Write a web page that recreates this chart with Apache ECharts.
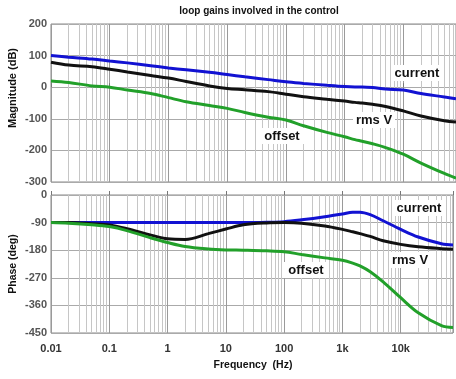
<!DOCTYPE html>
<html>
<head>
<meta charset="utf-8">
<script src="https://cdn.jsdelivr.net/npm/echarts@6/dist/echarts.min.js"></script>
<style>
html,body{margin:0;padding:0;background:#fff;}
#chart{width:456px;height:379px;}
</style>
</head>
<body>
<div id="chart"></div>
<script>
// Frequency points (Hz)
const freqs = [0.01,0.02,0.05,0.1,0.2,0.5,1,2,5,10,20,50,100,200,500,1000,1500,2000,3000,5000,10000,20000,50000,79000];
// Magnitude (dB)
const magCurrent = [100,95,89,83,77,68,61,55,47,40,33,24,17,12,6,2,1,1,-1,-6,-9,-20,-31,-37];
const magRms     = [79,70,65,57,48,37,29,18,4,-4,-8,-14,-22,-30,-38,-44,-48,-50,-54,-61,-75,-91,-106,-110];
const magOffset  = [20,15,4,0,-9,-20,-33,-46,-58,-67,-80,-95,-104,-122,-143,-157,-166,-171,-179,-191,-212,-240,-273,-288];
// Phase (deg)
const phCurrent = [-90,-90,-90,-90,-90,-90,-90,-90,-90,-90,-90,-89,-87,-81,-71,-62,-56,-56,-64,-84,-112,-137,-159,-163];
const phRms     = [-90,-90,-94,-98,-110,-130,-143,-145,-126,-111,-97,-91,-90,-92,-101,-112,-120,-126,-135,-149,-161,-169,-175,-177];
const phOffset  = [-90,-92,-97,-103,-116,-139,-155,-168,-176,-179,-180,-182,-185,-194,-205,-213,-222,-231,-250,-283,-335,-384,-426,-432];
// Tick labels
const decadeLabels = {'-2':'0.01','-1':'0.1','0':'1','1':'10','2':'100','3':'1k','4':'10k'};
const magTicks = {min:-300, max:200, interval:100};
const phTicks = {min:-450, max:0, interval:90};

const xMin = 0.01, xMax = 79000;
const minorFreqs = [];
for (let d = -2; d <= 4; d++) {
  for (let k = 2; k <= 9; k++) {
    const f = k * Math.pow(10, d);
    if (f < xMax) minorFreqs.push(f);
  }
}
const zip = (a) => freqs.map((f, i) => [f, a[i]]);

const FONT = '"Liberation Sans", Arial, sans-serif';
const colors = {current:'#1212d2', rms:'#111111', offset:'#22a02a'};

function xAxisCfg(idx, showLabels) {
  return {
    type:'log', logBase:10, gridIndex:idx, min:xMin, max:xMax,
    axisLine:{show:false},
    axisTick:{show:true, inside:true, length:4, lineStyle:{color:'#777'}},
    splitLine:{show:true, lineStyle:{color:'#9a9a9a', width:1}},
    axisLabel:{
      show:showLabels, margin:10, color:'#333', fontWeight:'bold', fontSize:11, fontFamily:FONT,
      formatter: function(v){
        const l = Math.log10(v);
        const r = Math.round(l);
        if (Math.abs(l - r) > 0.01) return '';
        return decadeLabels[String(r)] || '';
      }
    }
  };
}
function yAxisCfg(idx, t) {
  return {
    type:'value', gridIndex:idx, min:t.min, max:t.max, interval:t.interval,
    axisLine:{show:false}, axisTick:{show:false},
    splitLine:{show:true, lineStyle:{color:'#aaaaaa', width:1}},
    axisLabel:{margin:4, color:'#555', fontWeight:'bold', fontSize:11, fontFamily:FONT}
  };
}
function minorGridSeries(xi, yi) {
  return {
    type:'line', xAxisIndex:xi, yAxisIndex:yi, data:[], z:1, silent:true, animation:false,
    markLine:{
      silent:true, symbol:'none', animation:false, z:1,
      label:{show:false},
      lineStyle:{color:'#c6c6c6', type:'solid', width:1},
      data: minorFreqs.map(f => ({xAxis:f}))
    }
  };
}
function lineSeries(name, data, color, xi, yi) {
  return {
    name:name, type:'line', xAxisIndex:xi, yAxisIndex:yi, data:zip(data), z:3,
    showSymbol:false, smooth:0.35, lineStyle:{color:color, width:3}, itemStyle:{color:color},
    silent:true, animation:false
  };
}
function txt(x, y, text, size) {
  return {
    type:'text', x:x, y:y, silent:true, z:100,
    style:{text:text, fill:'#111', font:'bold ' + size + 'px ' + FONT, textAlign:'center', textVerticalAlign:'middle', align:'center', verticalAlign:'middle'}
  };
}
function boxTxt(x, y, text, w) {
  return [
    {type:'rect', silent:true, z:99, shape:{x:x - w/2, y:y - 8, width:w, height:16}, style:{fill:'#ffffff'}},
    txt(x, y, text, 13)
  ];
}

const chart = echarts.init(document.getElementById('chart'), null, {renderer:'canvas'});
chart.setOption({
  animation:false,
  backgroundColor:'#ffffff',
  grid:[
    {left:51, right:0, top:24, height:158, show:true, borderColor:'#888', borderWidth:1},
    {left:51, right:0, top:195, height:138, show:true, borderColor:'#888', borderWidth:1}
  ],
  xAxis:[xAxisCfg(0,false), xAxisCfg(1,true)],
  yAxis:[yAxisCfg(0,magTicks), yAxisCfg(1,phTicks)],
  series:[
    minorGridSeries(0, 0),
    minorGridSeries(1, 1),
    lineSeries('current', magCurrent, colors.current, 0, 0),
    lineSeries('rms V', magRms, colors.rms, 0, 0),
    lineSeries('offset', magOffset, colors.offset, 0, 0),
    lineSeries('current', phCurrent, colors.current, 1, 1),
    lineSeries('rms V', phRms, colors.rms, 1, 1),
    lineSeries('offset', phOffset, colors.offset, 1, 1)
  ],
  graphic:[
    txt(259, 11, 'loop gains involved in the control', 10),
    Object.assign(txt(13, 88, 'Magnitude (dB)', 11), {rotation:Math.PI/2}),
    Object.assign(txt(13, 264, 'Phase (deg)', 10.5), {rotation:Math.PI/2}),
    txt(253, 365, 'Frequency  (Hz)', 10.5)
  ].concat(
    boxTxt(417, 73, 'current', 52),
    boxTxt(374, 120, 'rms V', 42),
    boxTxt(282, 136, 'offset', 44),
    boxTxt(419, 208, 'current', 52),
    boxTxt(410, 260, 'rms V', 42),
    boxTxt(306, 270, 'offset', 44)
  )
});
</script>
</body>
</html>
